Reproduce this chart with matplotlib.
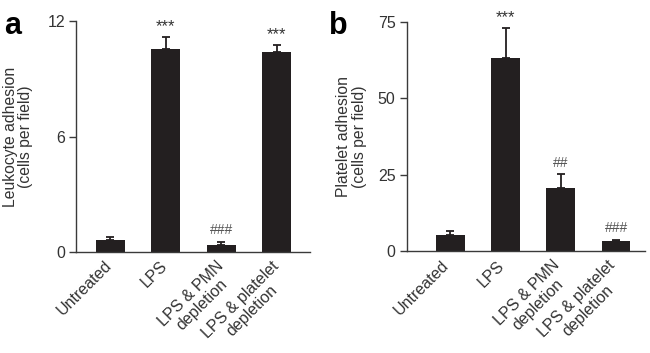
import matplotlib
matplotlib.use("Agg")
import matplotlib.pyplot as plt
import matplotlib.transforms as mtransforms
import numpy as np

plt.rcParams['font.family'] = ['Liberation Sans', 'DejaVu Sans']

categories = ["Untreated", "LPS", "LPS & PMN\ndepletion", "LPS & platelet\ndepletion"]

leuko_vals = [0.62, 10.55, 0.36, 10.37]
leuko_err = [0.16, 0.62, 0.18, 0.38]
leuko_marks = ["", "***", "###", "***"]

plate_vals = [5.25, 63.4, 20.5, 3.2]
plate_err = [1.25, 9.6, 4.6, 0.45]
plate_marks = ["", "***", "##", "###"]

bar_color = "#231f20"
text_color = "#333333"
axis_color = "#3a3a3a"

fig = plt.figure(figsize=(6.5, 3.53), dpi=100)
ax1 = fig.add_axes([0.117, 0.286, 0.360, 0.6545])
ax2 = fig.add_axes([0.6257, 0.2898, 0.3663, 0.647])

def draw(ax, vals, errs, marks, ylim, yticks, ylabel, xlim, lpad, dx, dy):
    x = np.arange(len(categories))
    ax.bar(x, vals, width=0.52, color=bar_color, zorder=2)
    ax.errorbar(x, vals, yerr=[np.zeros(len(vals)), errs], fmt='none',
                ecolor=bar_color, elinewidth=1.3, capsize=3, capthick=1.3, zorder=1)
    for xi, v, e, m in zip(x, vals, errs, marks):
        if m:
            if m.startswith('*'):
                ax.annotate(m, (xi, v + e), xytext=(0, 2), textcoords='offset points',
                            ha='center', va='bottom', fontsize=12, color=text_color)
            else:
                ax.annotate(m, (xi, v + e), xytext=(0, 3), textcoords='offset points',
                            ha='center', va='bottom', fontsize=10, color='#555555')
    ax.set_ylim(*ylim)
    ax.set_xlim(*xlim)
    ax.set_yticks(yticks)
    ax.set_yticklabels([str(t) for t in yticks])
    ax.set_xticks(x)
    ax.set_xticklabels([])
    off = mtransforms.ScaledTranslation(dx / 100, dy / 100, fig.dpi_scale_trans)
    for xi, lab in zip(x, categories):
        ax.text(xi, 0, lab, transform=ax.get_xaxis_transform() + off,
                rotation=45, ha='right', va='top', rotation_mode='anchor',
                multialignment='center', fontsize=11.5, color=text_color,
                linespacing=1.1)
    ax.tick_params(axis='x', length=0, pad=4)
    ax.tick_params(axis='y', length=5, width=1, colors=axis_color, labelsize=11.5,
                   labelcolor=text_color, pad=3)
    for s in ['top', 'right']:
        ax.spines[s].set_visible(False)
    for s in ['left', 'bottom']:
        ax.spines[s].set_color(axis_color)
        ax.spines[s].set_linewidth(1)
    ax.set_ylabel(ylabel, fontsize=11.3, color=text_color, labelpad=lpad, linespacing=1.05)

draw(ax1, leuko_vals, leuko_err, leuko_marks, (0, 12), [0, 6, 12],
     "Leukocyte adhesion\n(cells per field)", (-0.62, 3.6), 10, -6, -6)
draw(ax2, plate_vals, plate_err, plate_marks, (0, 75), [0, 25, 50, 75],
     "Platelet adhesion\n(cells per field)", (-0.79, 3.52), 8, -9, -7)

fig.text(0.006, 0.905, "a", fontsize=22, fontweight='bold', color='black')
fig.text(0.506, 0.905, "b", fontsize=22, fontweight='bold', color='black')

fig.savefig("out.png", dpi=100)
